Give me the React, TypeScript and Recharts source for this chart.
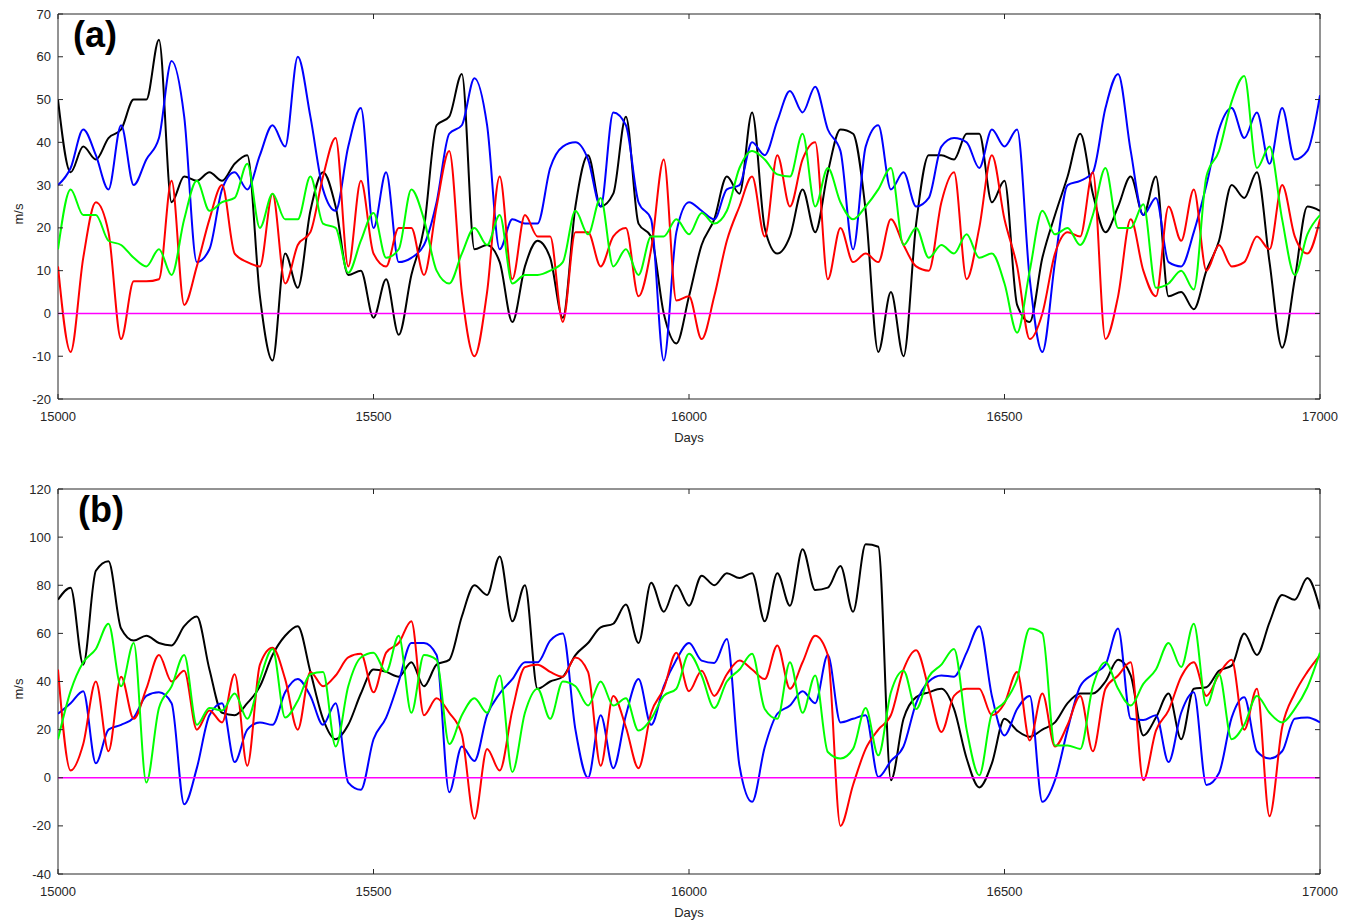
import { LineChart, Line, XAxis, YAxis, ReferenceLine, ReferenceArea } from 'recharts'

const days = [
  15000, 15020, 15040, 15060, 15080, 15100, 15120, 15140, 15160, 15180,
  15200, 15220, 15240, 15260, 15280, 15300, 15320, 15340, 15360, 15380,
  15400, 15420, 15440, 15460, 15480, 15500, 15520, 15540, 15560, 15580,
  15600, 15620, 15640, 15660, 15680, 15700, 15720, 15740, 15760, 15780,
  15800, 15820, 15840, 15860, 15880, 15900, 15920, 15940, 15960, 15980,
  16000, 16020, 16040, 16060, 16080, 16100, 16120, 16140, 16160, 16180,
  16200, 16220, 16240, 16260, 16280, 16300, 16320, 16340, 16360, 16380,
  16400, 16420, 16440, 16460, 16480, 16500, 16520, 16540, 16560, 16580,
  16600, 16620, 16640, 16660, 16680, 16700, 16720, 16740, 16760, 16780,
  16800, 16820, 16840, 16860, 16880, 16900, 16920, 16940, 16960, 16980,
  17000,
]
const xTicks = [15000, 15500, 16000, 16500, 17000]

// panel (a)
const aTicks = [-20, -10, 0, 10, 20, 30, 40, 50, 60, 70]
const aBlack = [
  50, 33, 39, 36, 41, 43, 50, 50, 64, 26, 32, 31, 33, 31, 35, 37, 4,
  -11, 14, 6, 24, 33, 25, 9, 10, -1, 8, -5, 9, 20, 44, 46, 56, 15,
  16, 12, -2, 11, 17, 13, -1, 25, 37, 25, 28, 46, 21, 18, 0, -7, 4,
  16, 22, 32, 28, 47, 20, 14, 18, 29, 19, 33, 43, 42, 24, -9, 5,
  -10, 21, 37, 37, 36, 42, 42, 26, 31, 2, -2, 13, 23, 32, 42, 28, 19,
  25, 32, 23, 32, 4, 5, 1, 10, 17, 30, 27, 33, 12, -8, 8, 25, 24,
]
const aBlue = [
  30, 34, 43, 37, 29, 44, 30, 36, 41, 59, 46, 12, 15, 29, 33, 29, 37,
  44, 39, 60, 46, 29, 24, 39, 48, 20, 33, 12, 13, 16, 26, 42, 44, 55,
  44, 15, 22, 21, 21, 34, 39, 40, 36, 25, 47, 44, 26, 22, -11, 19, 26,
  24, 22, 29, 30, 40, 37, 45, 52, 47, 53, 43, 38, 15, 39, 44, 29,
  33, 25, 27, 39, 41, 40, 34, 43, 39, 43, 8, -9, 12, 30, 31, 33, 48,
  56, 38, 23, 27, 12, 11, 19, 30, 43, 48, 41, 47, 35, 48, 36, 38, 51,
]
const aRed = [
  11, -9, 13, 26, 19, -6, 7.5, 7.5, 8, 31, 2, 11, 22, 30, 14, 12, 11,
  28, 7, 16, 19, 32, 41, 11, 31, 14, 11, 20, 20, 9, 25, 38, 5, -10,
  5, 32, 8, 23, 18, 18, -2, 19, 19, 11, 18, 20, 4, 15, 36, 3, 4,
  -6, 4, 17, 25, 32, 18, 37, 25, 36, 40, 8, 20, 12, 14, 12, 22,
  16, 11, 10, 26, 33, 8, 20, 37, 22, 11, -6, 0, 14, 19, 18, 33, -6,
  4, 22, 10, 4, 25, 17, 29, 10, 16, 11, 12, 18, 15, 30, 18, 14, 22,
]
const aGreen = [
  15, 29, 23, 23, 17, 16, 13, 11, 15, 9, 22, 31, 24, 26, 27, 35, 20,
  28, 22, 22, 32, 21, 20, 9.5, 17, 23.5, 13, 15, 29, 22, 10, 7, 14, 20,
  16, 23, 7, 9, 9, 10, 12, 24, 18.5, 27, 11, 15, 9, 18, 18, 22, 18.5,
  23.5, 21, 24, 34, 38, 36, 32.5, 32, 42, 25, 34, 26, 22, 25, 29, 34,
  16, 20, 13, 16, 14, 18.5, 13, 14, 7, -4.5, 10, 24, 18.5, 20, 16, 23, 34,
  20, 20, 25.5, 6, 7, 10, 5.6, 32, 38, 49.5, 55.5, 34, 39, 22, 9, 18.5, 23,
]

// panel (b)
const bTicks = [-40, -20, 0, 20, 40, 60, 80, 100, 120]
const bBlack = [
  74, 79, 47, 86, 90, 62, 57, 59, 56, 55, 63, 67, 45, 27, 26, 31, 38,
  51, 59, 63, 44, 24.5, 16, 22, 35, 45, 44, 42, 48, 38, 47, 49, 67, 80,
  76, 92, 65, 80, 37, 40, 42, 51, 56, 62.5, 64, 72, 56, 81, 69, 80, 71.5,
  84, 80, 85, 83, 85, 65, 85, 71.5, 95, 78, 79, 88, 69, 97, 96, -1,
  24.5, 33.5, 35.5, 37, 28.6, 8, -4, 6, 24.5, 19.6, 17, 20, 23, 31, 35, 35, 40,
  49, 42.5, 17.6, 25, 35, 16, 37, 37.6, 44.5, 46.6, 60, 51, 64.6, 76, 74, 83, 70,
]
const bBlue = [
  26.6, 31, 36, 6, 20, 22, 25, 34, 35.5, 31, -11, 4, 26, 31, 6.5, 20, 23,
  22, 35.5, 41, 34, 22, 31, -2, -5, 16, 25, 40, 56, 56, 51, -6, 13, 7,
  26, 35, 41, 48, 48, 57, 60, 20, 0, 26, 4, 26, 41, 22, 38, 49, 56,
  48.7, 47.7, 57.7, 5, -10, 12.7, 26.6, 30, 36, 31, 51, 23, 24.5, 26, 0.3, 7,
  13, 31, 40, 42.5, 42, 52, 63, 34, 17.6, 28.6, 34, -10, -1, 20, 38, 43, 47,
  62, 24.5, 24, 26, 6.5, 27, 35.5, -3, 2, 25, 33.5, 11, 8, 11, 24.5, 25, 23,
]
const bRed = [
  45, 3, 14, 40, 11, 42, 24.5, 37, 51, 40, 44.5, 20, 28, 23, 43, 5, 47,
  54, 41, 20, 44, 38, 42.5, 50, 51.5, 35.5, 52, 56, 65, 26, 33, 27, 18, -17,
  12, 3, 28, 46, 47, 44, 42, 50, 44, 5, 34, 21, 4, 27, 37, 52, 36,
  44.5, 34, 43, 48.7, 45, 41, 55, 37, 48, 59, 51, -20, -3, 12, 20, 26,
  45, 53, 37, 19, 34, 37, 37, 26, 31, 44, 15.5, 35, 13, 22, 34, 11, 37,
  42.5, 48, -1, 19.6, 28, 42, 48, 34, 43, 49, 20, 37, -16, 21, 35, 44, 51,
]
const bGreen = [
  16, 36, 48, 53.5, 64, 38, 56, -2, 29, 38, 51, 22, 29, 28, 35, 24.5, 41,
  53.5, 25, 32, 43, 44, 13, 38, 50, 52, 44, 59, 27, 51, 49, 14, 26, 33,
  27, 42.5, 2.4, 27, 37, 24.5, 40, 38, 30, 40, 30, 33, 19.6, 24.5, 34, 37, 51.5,
  42.5, 29, 40, 45, 51.5, 28.6, 24.5, 48, 27, 42.5, 10.7, 8, 12, 29, 9.3, 35.5,
  44.5, 28.6, 42, 47, 53.5, 20, 1, 26.6, 31.4, 41, 62, 60, 13.4, 13.4, 12, 38, 48,
  37, 30, 39, 45, 56, 46, 64, 30, 43, 16, 22, 34, 27, 23, 28.6, 37.6, 52,
]

const rowsA = days.map((day, i) => ({ day, k: aBlack[i], b: aBlue[i], r: aRed[i], g: aGreen[i] }))
const rowsB = days.map((day, i) => ({ day, k: bBlack[i], b: bBlue[i], r: bRed[i], g: bGreen[i] }))

const W = 1354
const H = 447
const PLOT_L = 58
const PLOT_R = 1320
const PLOT_T = 14
const PLOT_B = 399
const AXIS = '#262626'
const FONT = '"Liberation Sans", Arial, Helvetica, sans-serif'

function XTick(props: any) {
  const { x, payload } = props
  return (
    <g>
      <line x1={x} x2={x} y1={PLOT_B} y2={PLOT_B - 5} stroke={AXIS} />
      <line x1={x} x2={x} y1={PLOT_T} y2={PLOT_T + 5} stroke={AXIS} />
      <text x={x} y={PLOT_B + 22} textAnchor="middle" fontSize={13} fill={AXIS} fontFamily={FONT}>
        {payload.value}
      </text>
    </g>
  )
}

function YTick(props: any) {
  const { y, payload } = props
  return (
    <g>
      <line x1={PLOT_L} x2={PLOT_L + 5} y1={y} y2={y} stroke={AXIS} />
      <line x1={PLOT_R} x2={PLOT_R - 5} y1={y} y2={y} stroke={AXIS} />
      <text x={PLOT_L - 7} y={y + 4.5} textAnchor="end" fontSize={13} fill={AXIS} fontFamily={FONT}>
        {payload.value}
      </text>
    </g>
  )
}

function Panel({ rows, yDomain, yTicks, top, tag, tagX }: any) {
  return (
    <div style={{ position: 'absolute', left: 0, top, width: W, height: H }}>
      <LineChart width={W} height={H} data={rows} margin={{ top: 14, right: 34, bottom: 0, left: 8 }}>
        <XAxis
          dataKey="day"
          type="number"
          domain={[15000, 17000]}
          ticks={xTicks}
          tick={XTick}
          tickSize={0}
          tickLine={false}
          axisLine={false}
          height={48}
          allowDataOverflow
          label={{ value: 'Days', position: 'insideBottom', offset: 5, fontSize: 13, fill: AXIS, fontFamily: FONT }}
        />
        <YAxis
          type="number"
          domain={yDomain}
          ticks={yTicks}
          tick={YTick}
          tickSize={0}
          tickLine={false}
          axisLine={false}
          width={50}
          allowDataOverflow
        />
        <ReferenceArea
          x1={15000}
          x2={17000}
          y1={yDomain[0]}
          y2={yDomain[1]}
          fill="none"
          fillOpacity={0}
          stroke={AXIS}
          strokeWidth={1}
        />
        <Line type="monotone" dataKey="k" stroke="#000000" strokeWidth={2} dot={false} isAnimationActive={false} />
        <Line type="monotone" dataKey="b" stroke="#0000ff" strokeWidth={2} dot={false} isAnimationActive={false} />
        <Line type="monotone" dataKey="r" stroke="#ff0000" strokeWidth={2} dot={false} isAnimationActive={false} />
        <Line type="monotone" dataKey="g" stroke="#00ff00" strokeWidth={2} dot={false} isAnimationActive={false} />
        <ReferenceLine y={0} stroke="#ff00ff" strokeWidth={1.5} />
      </LineChart>
      <div
        style={{
          position: 'absolute',
          left: 18,
          top: 214,
          transform: 'translate(-50%, -50%) rotate(-90deg)',
          fontSize: 13,
          fontFamily: FONT,
          color: AXIS,
          lineHeight: 1,
          whiteSpace: 'nowrap',
        }}
      >
        m/s
      </div>
      <div
        style={{
          position: 'absolute',
          left: tagX,
          top: 17,
          fontSize: 36,
          fontWeight: 'bold',
          fontFamily: FONT,
          lineHeight: 1,
          color: '#000',
        }}
      >
        {tag}
      </div>
    </div>
  )
}

export default function App() {
  return (
    <div style={{ position: 'absolute', left: 0, top: 0, width: 1354, height: 924, overflow: 'hidden', background: '#fff' }}>
      <Panel rows={rowsA} yDomain={[-20, 70]} yTicks={aTicks} top={0} tag="(a)" tagX={73} />
      <Panel rows={rowsB} yDomain={[-40, 120]} yTicks={bTicks} top={475} tag="(b)" tagX={78} />
    </div>
  )
}
